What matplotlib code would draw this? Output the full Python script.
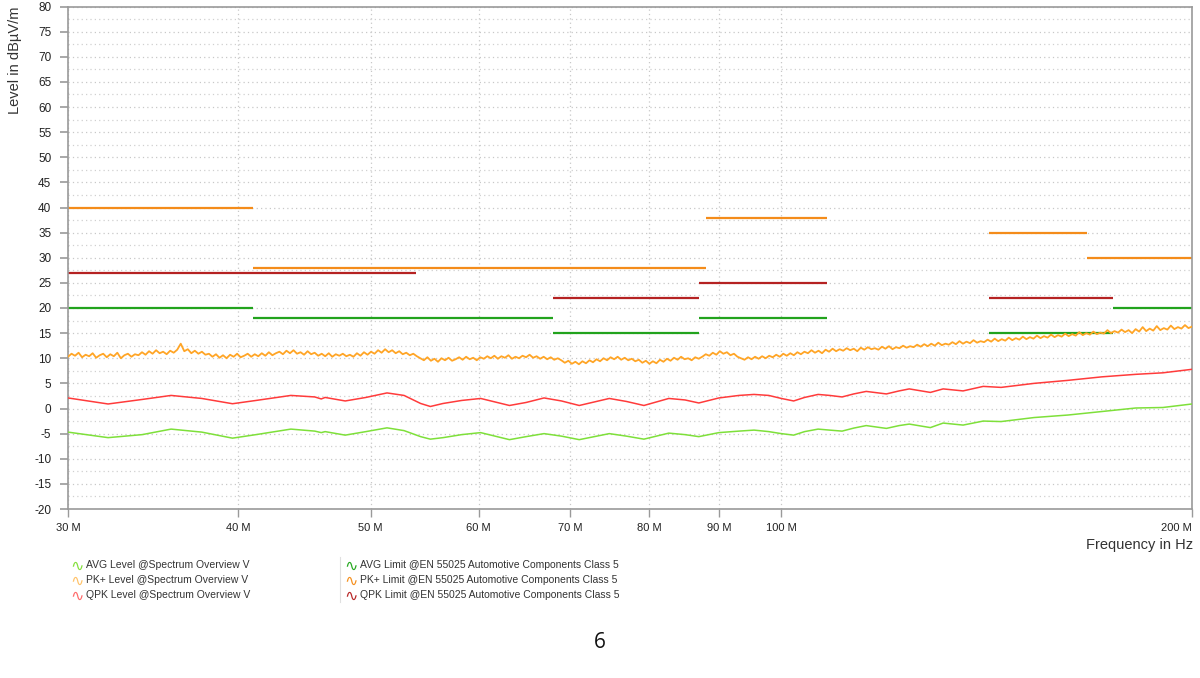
import numpy as np
import matplotlib
matplotlib.use('Agg')
import matplotlib.pyplot as plt
from matplotlib.ticker import FixedLocator, MultipleLocator, NullLocator

plt.rcParams['font.family'] = ['Liberation Sans', 'DejaVu Sans']
plt.rcParams['axes.unicode_minus'] = False

# ---- limit lines (MHz start, MHz stop, dBuV/m) ----
pk_lim_start = [30, 41, 88, 142, 167.5]
pk_lim_stop = [41, 88, 108, 167.5, 200]
pk_lim_level = [40, 28, 38, 35, 30]

qpk_lim_start = [30, 68, 87, 142]
qpk_lim_stop = [54, 87, 108, 175]
qpk_lim_level = [27, 22, 25, 22]

avg_lim_start = [30, 41, 68, 87, 142, 175]
avg_lim_stop = [41, 68, 87, 108, 175, 200]
avg_lim_level = [20, 18, 15, 18, 15, 20]

# ---- QPK level trace ----
qpk_freq = [30, 32.1, 34.0, 35.7, 37.6, 39.6, 41.2, 43.7, 45.5, 46.0, 46.3, 47.9,
            49.6, 51.4, 52.9, 54.4, 55.3, 56.5, 58.3, 60.2, 63.2, 65.0, 67.0, 69.0,
            71.1, 74.8, 77.0, 79.3, 82.7, 85.0, 87.0, 90.0, 93.1, 95.5, 97.9,
            100.0, 102.1, 104.0, 106.4, 108.5, 110.8, 113.0, 115.4, 119.4, 122.0,
            124.1, 128.6, 131.4, 135.9, 140.6, 144.9, 149.0, 153.2, 162.2, 171.8,
            181.9, 190.4, 200]
qpk_level = [2.1, 0.9, 1.8, 2.6, 2.0, 0.95, 1.6, 2.6, 2.3, 1.9, 2.2, 1.5,
             2.2, 3.1, 2.6, 1.0, 0.4, 1.0, 1.6, 2.0, 0.6, 1.2, 2.1, 1.5,
             0.6, 2.0, 1.4, 0.6, 2.0, 1.7, 1.1, 2.1, 2.6, 2.8, 2.6,
             2.0, 1.5, 2.2, 2.8, 2.6, 2.3, 2.9, 3.4, 2.9, 3.5,
             3.9, 3.2, 3.9, 3.5, 4.4, 4.2, 4.6, 5.0, 5.6, 6.3,
             6.8, 7.1, 7.8]

# ---- AVG level trace ----
avg_freq = qpk_freq
avg_level = [-4.7, -5.8, -5.2, -4.1, -4.7, -5.9, -5.2, -4.1, -4.5, -4.8, -4.6, -5.3,
             -4.6, -3.85, -4.4, -5.6, -6.1, -5.8, -5.2, -4.8, -6.2, -5.6, -5.0, -5.5,
             -6.2, -5.0, -5.5, -6.1, -4.9, -5.2, -5.6, -4.8, -4.5, -4.3, -4.6,
             -5.0, -5.3, -4.6, -4.1, -4.3, -4.5, -3.9, -3.4, -3.96, -3.4,
             -3.1, -3.8, -2.9, -3.3, -2.5, -2.6, -2.2, -1.8, -1.3, -0.6,
             0.1, 0.2, 0.9]

# ---- PK+ level trace (sweep 30..200 MHz, log spaced points) ----
pk_start_mhz = 30
pk_stop_mhz = 200
pk_level = [
    10.3, 10.9, 10.5, 11.1, 10.2, 10.7, 10.4, 11.0, 10.1, 10.6,
    10.9, 10.2, 10.8, 10.4, 11.1, 10.0, 10.6, 10.9, 10.3, 10.8,
    10.6, 11.2, 10.7, 11.4, 10.9, 11.6, 11.0, 11.3, 10.8, 11.5,
    11.1, 11.7, 12.9, 11.4, 11.8, 11.0, 11.5, 10.9, 11.3, 10.7,
    10.9, 10.3, 10.8, 10.1, 10.6, 10.0, 10.7, 10.3, 10.9, 10.2,
    10.5, 10.9, 10.3, 10.8, 10.4, 11.0, 10.5, 11.2, 10.6, 11.0,
    11.3, 10.8, 11.5, 11.0, 11.6, 10.9, 11.2, 10.7, 11.4, 10.8,
    11.1, 10.5, 10.9, 10.4, 11.0, 10.3, 10.8, 10.5, 10.9, 10.4,
    10.7, 10.3, 11.0, 10.5, 11.2, 10.7, 11.3, 10.9, 11.6, 11.1,
    11.8, 11.2, 11.6, 11.0, 11.4, 10.8, 11.1, 10.6, 10.9, 10.4,
    10.0, 9.6, 10.2, 9.5, 9.9, 9.3, 10.0, 9.6, 10.1, 9.5,
    9.8, 10.2, 9.7, 10.3, 9.8, 10.1, 9.6, 10.2, 9.9, 10.4,
    10.0, 10.5, 9.9, 10.4, 10.1, 10.6, 9.9, 10.3, 10.0, 10.5,
    10.2, 10.7, 10.1, 10.4, 9.9, 10.3, 9.8, 10.2, 9.7, 10.0,
    9.6, 9.1, 9.5, 8.9, 9.3, 8.8, 9.4, 9.0, 9.6, 9.2,
    9.8, 9.4, 10.0, 9.6, 10.2, 9.8, 10.3, 9.7, 10.1, 9.6,
    9.9, 9.4, 9.7, 9.1, 9.5, 8.9, 9.4, 9.0, 9.7, 9.3,
    9.9, 9.5, 10.1, 9.7, 10.3, 9.8, 10.0, 9.6, 10.2, 9.9,
    10.3, 10.8, 10.5, 11.1, 10.7, 11.4, 10.9, 11.2, 10.6, 10.9,
    10.3, 10.0, 9.7, 10.2, 9.8, 10.3, 9.9, 10.4, 10.0, 10.5,
    10.2, 10.7, 10.3, 10.9, 10.5, 11.0, 10.6, 11.2, 10.8, 11.3,
    11.0, 11.6, 11.1, 11.5, 11.0, 11.7, 11.3, 11.9, 11.4, 11.8,
    11.5, 12.0, 11.6, 11.9, 11.4, 12.1, 11.7, 12.2, 11.8, 12.0,
    11.7, 12.3, 11.9, 12.4, 11.8, 12.2, 12.0, 12.5, 12.1, 12.4,
    12.2, 12.7, 12.3, 12.8, 12.4, 12.9, 12.5, 13.1, 12.6, 12.9,
    12.7, 13.2, 12.8, 13.4, 12.9, 13.3, 13.0, 13.6, 13.1, 13.4,
    13.2, 13.7, 13.3, 13.9, 13.4, 13.8, 13.5, 14.1, 13.6, 14.0,
    13.7, 14.3, 13.8, 14.2, 13.9, 14.5, 14.0, 14.4, 14.1, 14.7,
    14.2, 14.6, 14.3, 14.9, 14.4, 14.8, 14.5, 15.2, 14.6, 15.0,
    14.7, 15.3, 14.8, 15.1, 14.9, 15.6, 15.0, 15.4, 15.1, 15.7,
    15.2, 15.6, 15.0, 15.8, 15.3, 16.2, 15.4, 15.9, 15.5, 16.4,
    15.6, 16.0, 15.7, 16.5, 15.8, 16.2, 15.9, 16.6, 16.0, 16.3,
]

xtick_mhz = [30, 40, 50, 60, 70, 80, 90, 100, 200]
xtick_labels = ['30 M', '40 M', '50 M', '60 M', '70 M', '80 M', '90 M', '100 M', '200 M']

legend_items = [
    ('AVG Level @Spectrum Overview V', '#84e03c'),
    ('PK+ Level @Spectrum Overview V', '#ffc36a'),
    ('QPK Level @Spectrum Overview V', '#ff6b6b'),
    ('AVG Limit @EN 55025 Automotive Components Class 5', '#27a821'),
    ('PK+ Limit @EN 55025 Automotive Components Class 5', '#f5901f'),
    ('QPK Limit @EN 55025 Automotive Components Class 5', '#b82828'),
]

c_avg = '#7ee03a'
c_pk = '#ffa526'
c_qpk = '#ff3b3b'
c_avg_lim = '#22a31d'
c_pk_lim = '#f48c1a'
c_qpk_lim = '#b52222'

fig = plt.figure(figsize=(12, 6.78), dpi=100)
ax = fig.add_axes([68 / 1200, 1 - 509 / 678, 1124 / 1200, 502.5 / 678])

mhz = 1e6
pk_freq = np.geomspace(pk_start_mhz, pk_stop_mhz, len(pk_level))

ax.plot(np.array(avg_freq) * mhz, avg_level, color=c_avg, lw=1.1, zorder=3)
ax.plot(np.array(qpk_freq) * mhz, qpk_level, color=c_qpk, lw=1.1, zorder=3)
ax.plot(pk_freq * mhz, pk_level, color=c_pk, lw=1.3, zorder=3)

ax.hlines(avg_lim_level, np.array(avg_lim_start) * mhz, np.array(avg_lim_stop) * mhz,
          color=c_avg_lim, lw=1.6, zorder=2)
ax.hlines(pk_lim_level, np.array(pk_lim_start) * mhz, np.array(pk_lim_stop) * mhz,
          color=c_pk_lim, lw=1.6, zorder=2)
ax.hlines(qpk_lim_level, np.array(qpk_lim_start) * mhz, np.array(qpk_lim_stop) * mhz,
          color=c_qpk_lim, lw=1.6, zorder=2)

ax.set_xscale('log')
ax.set_xlim(30 * mhz, 200 * mhz)
ax.set_ylim(-20, 80)

ax.xaxis.set_major_locator(FixedLocator([v * mhz for v in xtick_mhz]))
ax.xaxis.set_minor_locator(NullLocator())
ax.set_xticklabels(xtick_labels)
for lab, t in zip(ax.get_xticklabels(), xtick_mhz):
    if t == 200:
        lab.set_horizontalalignment('right')

ax.yaxis.set_major_locator(MultipleLocator(5))
ax.yaxis.set_minor_locator(MultipleLocator(2.5))

ax.grid(True, which='major', color='#c8c8c8', ls=(0, (1, 2.5)), lw=0.9)
ax.grid(True, which='minor', axis='y', color='#d0d0d0', ls=(0, (1, 2.5)), lw=0.9)

for s in ax.spines.values():
    s.set_color('#9a9a9a')
    s.set_linewidth(1.2)

ax.tick_params(axis='y', which='major', length=6, width=1.2, color='#9a9a9a',
               labelsize=8.5, pad=6, labelcolor='#222222')
ax.tick_params(axis='y', which='minor', length=0)
ax.tick_params(axis='x', which='major', length=6, width=1, color='#9a9a9a',
               labelsize=8, pad=4, labelcolor='#222222')

fig.text(15 / 1200, 1 - 60 / 678, 'Level in dBµV/m', rotation=90, ha='center', va='center',
         fontsize=10.5, color='#333333')
fig.text(1193 / 1200, 1 - 545 / 678, 'Frequency in Hz', ha='right', va='center',
         fontsize=10.5, color='#333333')

# legend
col_x = [70, 344]
row_y = [565, 580, 595]
for k, (txt, col) in enumerate(legend_items):
    x0 = col_x[k // 3]
    y0 = row_y[k % 3]
    fig.text(x0 / 1200, 1 - (y0 + 1) / 678, '∿', color=col, fontsize=11.5, ha='left',
             va='center', family=['DejaVu Sans'])
    fig.text((x0 + 16) / 1200, 1 - y0 / 678, txt, color='#333333', fontsize=7.5,
             ha='left', va='center')
fig.add_artist(plt.Line2D([340 / 1200, 340 / 1200], [1 - 557 / 678, 1 - 602 / 678],
                          color='#e0e0e0', lw=0.8))

fig.text(600 / 1200, 1 - 642 / 678, '6', ha='center', va='center', fontsize=15,
         family=['Open Sans', 'DejaVu Sans'], color='#111111')

fig.savefig('out.png', dpi=100)
